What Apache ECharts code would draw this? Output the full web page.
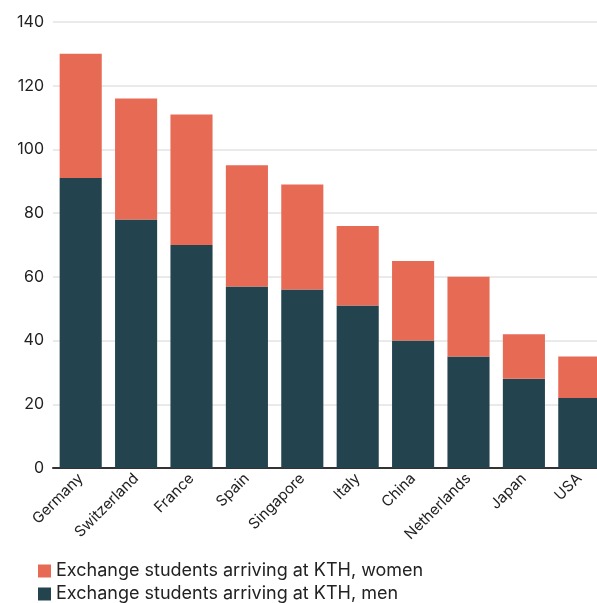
<!DOCTYPE html>
<html>
<head>
<meta charset="utf-8">
<script src="https://cdn.jsdelivr.net/npm/echarts@6/dist/echarts.min.js"></script>
<style>
  html, body { margin: 0; padding: 0; background: #fff; }
  #main { width: 597px; height: 603px; }
</style>
</head>
<body>
<div id="main"></div>
<script>
var countries = ["Germany", "Switzerland", "France", "Spain", "Singapore", "Italy", "China", "Netherlands", "Japan", "USA"];
var men = [91, 78, 70, 57, 56, 51, 40, 35, 28, 22];
var women = [39, 38, 41, 38, 33, 25, 25, 25, 14, 13];
var yTicks = { min: 0, max: 140, step: 20 };

var font = "Inter, 'Open Sans', sans-serif";
var chart = echarts.init(document.getElementById("main"));
chart.setOption({
  animation: false,
  textStyle: { fontFamily: font },
  grid: { left: 53, width: 554, top: 22, height: 446, outerBoundsMode: "none", containLabel: false },
  legend: {
    orient: "vertical",
    left: 38,
    top: 562,
    height: 60,
    padding: 0,
    itemWidth: 13,
    itemHeight: 13,
    itemGap: 5,
    icon: "rect",
    textStyle: { fontSize: 18, color: "#222", fontFamily: font },
    data: ["Exchange students arriving at KTH, women", "Exchange students arriving at KTH, men"]
  },
  xAxis: {
    type: "category",
    data: countries,
    axisTick: { show: false },
    axisLine: { lineStyle: { color: "#333", width: 2 } },
    axisLabel: { rotate: 45, fontSize: 15, color: "#222", margin: 8, interval: 0 }
  },
  yAxis: {
    type: "value",
    min: yTicks.min,
    max: yTicks.max,
    interval: yTicks.step,
    axisLabel: { fontSize: 16, color: "#222", margin: 9 },
    splitLine: { lineStyle: { color: "#e3e3e3", width: 1.5 } }
  },
  series: [
    {
      name: "Exchange students arriving at KTH, men",
      type: "bar",
      stack: "total",
      data: men,
      barCategoryGap: "24%",
      itemStyle: { color: "#23444f" }
    },
    {
      name: "Exchange students arriving at KTH, women",
      type: "bar",
      stack: "total",
      data: women,
      itemStyle: { color: "#e76a55" }
    }
  ]
});
</script>
</body>
</html>
